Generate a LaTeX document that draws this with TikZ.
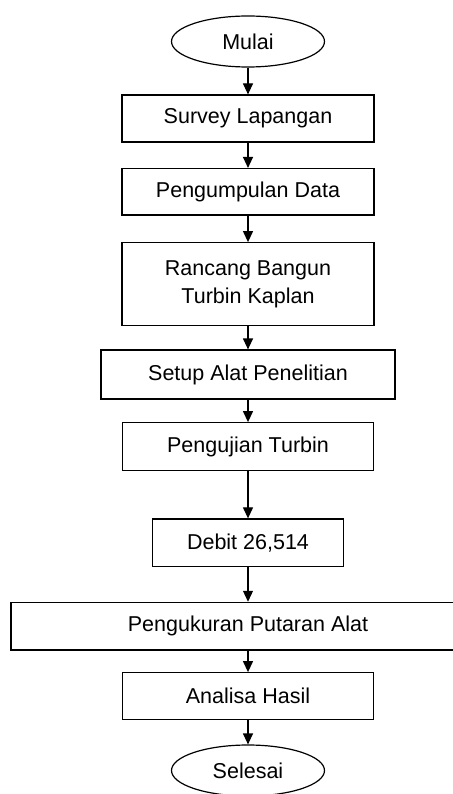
\documentclass[tikz,border=0pt]{standalone}
\usepackage{fontspec}
\setmainfont{Liberation Sans}
\usetikzlibrary{shapes.geometric,arrows.meta}
\begin{document}
\begin{tikzpicture}[x=1pt,y=-1pt,
  font=\fontsize{21.5}{28}\selectfont,
  box/.style={draw=black,line width=1.2pt,rectangle,inner sep=0pt,align=center},
  term/.style={draw=black,line width=1.2pt,ellipse,inner sep=0pt,minimum width=153pt,minimum height=51pt},
  arr/.style={line width=1.2pt,-{Triangle[length=11pt,width=10pt]}}]
\fill[white] (0,0) rectangle (452,794);
\useasboundingbox (0,0) rectangle (452,794);
\node[term] (mulai) at (248,41.5) {Mulai};
\node[box,minimum width=252pt,minimum height=47pt] (survey) at (248,118.5) {Survey Lapangan};
\node[box,minimum width=252pt,minimum height=46.5pt] (kumpul) at (248,191.8) {Pengumpulan Data};
\node[box,minimum width=252pt,minimum height=83pt] (rancang) at (248,284.2) {Rancang Bangun\\Turbin Kaplan};
\node[box,minimum width=294pt,minimum height=49pt] (setup) at (248,374.5) {Setup Alat Penelitian};
\node[box,minimum width=251.4pt,minimum height=47.6pt] (uji) at (248,446.5) {Pengujian Turbin};
\node[box,minimum width=191.4pt,minimum height=47.7pt] (debit) at (248,542.8) {Debit 26,514};
\node[box,minimum width=474pt,minimum height=47.7pt] (ukur) at (248,626.2) {Pengukuran Putaran Alat};
\node[box,minimum width=251.4pt,minimum height=46.6pt] (analisa) at (248,696) {Analisa Hasil};
\node[term] (selesai) at (248,770.5) {Selesai};
\draw[arr] (mulai) -- (survey);
\draw[arr] (survey) -- (kumpul);
\draw[arr] (kumpul) -- (rancang);
\draw[arr] (rancang) -- (setup);
\draw[arr] (setup) -- (uji);
\draw[arr] (uji) -- (debit);
\draw[arr] (debit) -- (ukur);
\draw[arr] (ukur) -- (analisa);
\draw[arr] (analisa) -- (selesai);
\end{tikzpicture}
\end{document}
